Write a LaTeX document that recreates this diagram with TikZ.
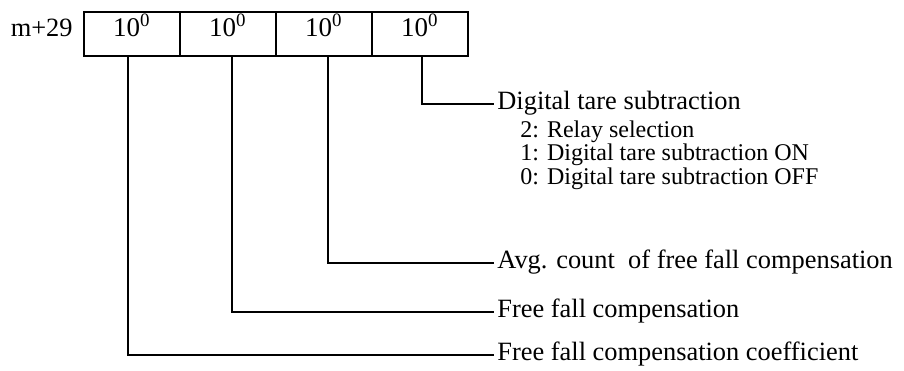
\documentclass[tikz,border=0pt]{standalone}
\usepackage{fontspec}
\setmainfont{Liberation Serif}
\begin{document}
\begin{tikzpicture}[x=0.5pt,y=-0.5pt,
  cell/.style={draw, line width=0.75pt, minimum width=48pt, minimum height=22pt,
    inner sep=0pt, anchor=north west, text height=0.7em, text depth=0.2em,
    font=\fontsize{13.5}{15}\selectfont},
  celltext/.style={inner sep=0pt, text height=0.7em, text depth=0.2em,
    font=\fontsize{13.5}{15}\selectfont},
  lbl/.style={anchor=west, inner xsep=1.5pt, inner ysep=0pt, text height=0.7em,
    text depth=0.2em, font=\fontsize{13.2}{15}\selectfont},
  sublbl/.style={anchor=west, inner sep=0pt, text height=0.7em, text depth=0.2em,
    font=\fontsize{12}{14}\selectfont},
  conn/.style={line width=0.75pt}]
\useasboundingbox (0,0) rectangle (904,370);
% register label
\node[anchor=east, inner sep=0pt, text height=0.7em, text depth=0.2em,
  font=\fontsize{13.2}{15}\selectfont] (reg) at (73,31) {m+29};
% cells
\node[cell] (c1) at (83,11)  {};
\node[cell] (c2) at (179,11) {};
\node[cell] (c3) at (275,11) {};
\node[cell] (c4) at (371,11) {};
\node[celltext] (d1) at ([yshift=1pt]c1.center) {10\textsuperscript{0}};
\node[celltext] (d2) at ([yshift=1pt]c2.center) {10\textsuperscript{0}};
\node[celltext] (d3) at ([yshift=1pt]c3.center) {10\textsuperscript{0}};
\node[celltext] (d4) at ([yshift=1pt]c4.center) {10\textsuperscript{0}};
% labels
\node[lbl] (t1) at (494,104) {Digital tare subtraction};
\node[sublbl] (s2) at (520,132) {2: Relay selection};
\node[sublbl] (s1) at (520,155.5) {1: Digital tare subtraction ON};
\node[sublbl] (s0) at (520,179) {0: Digital tare subtraction OFF};
\node[lbl] (t2) at (494,263) {Avg. count\ \ of free fall compensation};
\node[lbl] (t3) at (494,312) {Free fall compensation};
\node[lbl] (t4) at (494,355) {Free fall compensation coefficient};
% connectors
\draw[conn] ([xshift=1pt]c4.south) |- (t1.west);
\draw[conn] ([xshift=2pt]c3.south) |- (t2.west);
\draw[conn] ([xshift=2pt]c2.south) |- (t3.west);
\draw[conn] ([xshift=-2pt]c1.south) |- (t4.west);
\end{tikzpicture}
\end{document}
